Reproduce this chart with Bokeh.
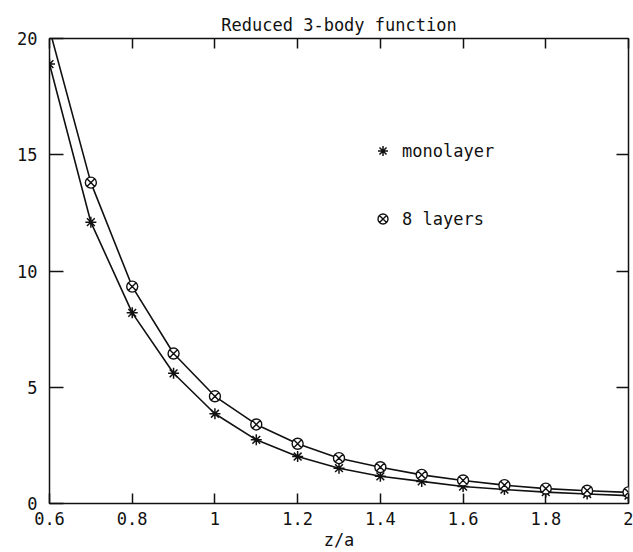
from bokeh.plotting import figure
from bokeh.models import (LinearAxis, Range1d, Legend, LegendItem, FixedTicker,
                          ColumnDataSource)
from bokeh.embed import file_html
from bokeh.resources import INLINE

# ---- data ----
x_vals = [0.6, 0.7, 0.8, 0.9, 1.0, 1.1, 1.2, 1.3, 1.4, 1.5, 1.6, 1.7, 1.8, 1.9, 2.0]
monolayer = [18.9, 12.1, 8.2, 5.6, 3.86, 2.74, 2.02, 1.52, 1.17, 0.95, 0.73, 0.60, 0.49, 0.41, 0.34]
eight_layers = [20.4, 13.8, 9.33, 6.45, 4.61, 3.40, 2.57, 1.95, 1.56, 1.23, 0.99, 0.79, 0.64, 0.55, 0.48]

x_ticks = [0.6, 0.8, 1.0, 1.2, 1.4, 1.6, 1.8, 2.0]
x_tick_labels = ["0.6", "0.8", "1", "1.2", "1.4", "1.6", "1.8", "2"]
y_ticks = [0, 5, 10, 15, 20]
y_tick_labels = ["0", "5", "10", "15", "20"]
inner_y_ticks = [5, 10, 15]

title_text = "Reduced 3-body function"
x_label = "z/a"
series_names = ["monolayer", "8 layers"]

FONT = "DejaVu Sans Mono"
INK = "#111111"
FS = "17px"

p = figure(width=633, height=552, output_backend="svg", toolbar_location=None,
           x_range=Range1d(0.6, 2.0), y_range=Range1d(0, 20),
           x_axis_location=None, y_axis_location=None,
           min_border_left=49, min_border_right=5, min_border_top=38,
           min_border_bottom=49)
p.grid.visible = False
p.background_fill_color = "white"
p.border_fill_color = "white"
p.outline_line_color = INK
p.outline_line_width = 1.5

p.title.text = title_text
p.title.align = "center"
p.title.text_font = FONT
p.title.text_font_size = FS
p.title.text_font_style = "normal"
p.title.text_color = INK
p.title.standoff = 7


def style_axis(ax, tick_in, show_labels):
    ax.axis_line_color = None
    ax.major_tick_in = tick_in
    ax.major_tick_out = 0
    ax.major_tick_line_color = INK
    ax.major_tick_line_width = 1.5
    ax.minor_tick_line_color = None
    ax.major_label_text_font = FONT
    ax.major_label_text_font_size = FS if show_labels else "0px"
    ax.major_label_text_color = INK if show_labels else None
    ax.axis_label_text_font = FONT
    ax.axis_label_text_font_size = FS
    ax.axis_label_text_font_style = "normal"
    ax.axis_label_text_color = INK


xb = LinearAxis(ticker=FixedTicker(ticks=x_ticks),
                major_label_overrides=dict(zip(x_ticks, x_tick_labels)),
                axis_label=x_label)
style_axis(xb, 10, True)
xb.major_label_standoff = 8
xb.axis_label_standoff = 2
p.add_layout(xb, "below")

xt = LinearAxis(ticker=FixedTicker(ticks=x_ticks))
style_axis(xt, 10, False)
xt.major_label_standoff = 0
p.add_layout(xt, "above")

yl = LinearAxis(ticker=FixedTicker(ticks=y_ticks),
                major_label_overrides=dict(zip(y_ticks, y_tick_labels)))
style_axis(yl, 14, True)
yl.major_label_standoff = 12
p.add_layout(yl, "left")

yr = LinearAxis(ticker=FixedTicker(ticks=inner_y_ticks))
style_axis(yr, 12, False)
yr.major_label_standoff = 0
p.add_layout(yr, "right")

# ---- series ----
src_m = ColumnDataSource(dict(x=x_vals, y=monolayer))
src_e = ColumnDataSource(dict(x=x_vals, y=eight_layers))
src_e_pts = ColumnDataSource(dict(x=x_vals[1:], y=eight_layers[1:]))

p.line("x", "y", source=src_m, line_color=INK, line_width=1.6)
p.line("x", "y", source=src_e, line_color=INK, line_width=1.6)
r_star = p.scatter("x", "y", source=src_m, marker="asterisk", size=11,
                   line_color=INK, line_width=1.5)
r_circ = p.scatter("x", "y", source=src_e_pts, marker="circle_x", size=11,
                   line_color=INK, line_width=1.4, fill_color="white")

legend = Legend(items=[LegendItem(label=series_names[0], renderers=[r_star]),
                       LegendItem(label=series_names[1], renderers=[r_circ])],
                location=(321, 272), border_line_color=None,
                background_fill_alpha=0, label_text_font=FONT,
                label_text_font_size=FS, label_text_color=INK,
                glyph_width=25, glyph_height=25, label_height=25,
                spacing=43, padding=0, margin=0, label_standoff=7)
p.add_layout(legend)

open("out.html", "w").write(file_html(p, INLINE))
